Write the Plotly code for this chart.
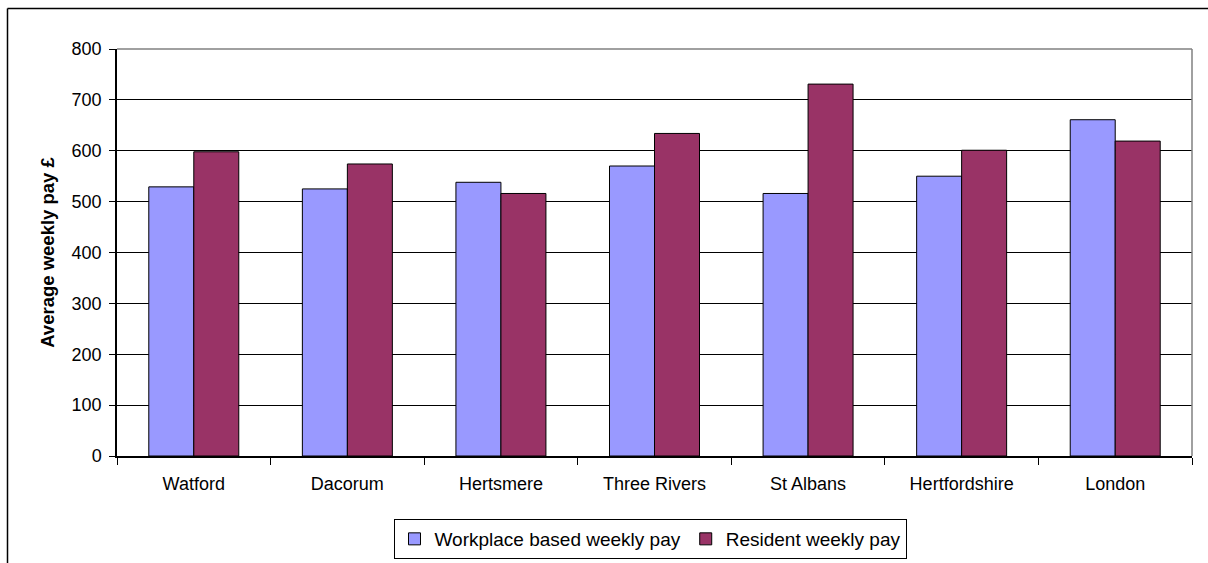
import plotly.graph_objects as go

categories = ["Watford", "Dacorum", "Hertsmere", "Three Rivers", "St Albans", "Hertfordshire", "London"]
workplace_pay = [529, 525, 538, 570, 516, 550, 661]
resident_pay = [598, 574, 516, 634, 731, 601, 619]
y_ticks = [0, 100, 200, 300, 400, 500, 600, 700, 800]

W, H = 1208, 563
L, R, T, B = 117, 16, 49, 107
pw, ph = W - L - R, H - T - B

font_family = "Arial, Liberation Sans, sans-serif"

fig = go.Figure()
fig.add_trace(go.Bar(
    name="Workplace based weekly pay", x=categories, y=workplace_pay,
    marker=dict(color="#9999FF", line=dict(color="#000000", width=1)),
))
fig.add_trace(go.Bar(
    name="Resident weekly pay", x=categories, y=resident_pay,
    marker=dict(color="#993366", line=dict(color="#000000", width=1)),
))

def px_x(p):
    return (p - L) / pw

def px_y(p):
    return (H - B - p) / ph

shapes = [
    # plot area top and right border (grey)
    dict(type="line", xref="paper", yref="paper", x0=0, x1=1, y0=1, y1=1,
         line=dict(color="#808080", width=1.5), layer="above"),
    dict(type="line", xref="paper", yref="paper", x0=1, x1=1, y0=0, y1=1,
         line=dict(color="#808080", width=1.5), layer="above"),
    # outer chart border (cut off at right/bottom)
    dict(type="line", xref="paper", yref="paper", x0=px_x(7.5), x1=px_x(1220), y0=px_y(8.5), y1=px_y(8.5),
         line=dict(color="#000000", width=1.5)),
    dict(type="line", xref="paper", yref="paper", x0=px_x(7.5), x1=px_x(7.5), y0=px_y(8.5), y1=px_y(580),
         line=dict(color="#000000", width=1.5)),
]

fig.update_layout(
    width=W, height=H,
    margin=dict(l=L, r=R, t=T, b=B, autoexpand=False),
    paper_bgcolor="white", plot_bgcolor="white",
    barmode="group", bargap=0.414, bargroupgap=0,
    font=dict(family=font_family, size=18, color="#000000"),
    showlegend=True,
    legend=dict(
        orientation="h", x=px_x(650), xanchor="center", y=px_y(519), yanchor="top",
        bordercolor="#000000", borderwidth=1, bgcolor="white",
        font=dict(family=font_family, size=19, color="#000000"),
        itemwidth=30, traceorder="normal",
    ),
    shapes=shapes,
)

fig.update_xaxes(
    type="category", showline=True, linecolor="#000000", linewidth=1.5,
    ticks="outside", tickson="boundaries", ticklen=7, tickcolor="#000000", tickwidth=1,
    showgrid=False, tickfont=dict(size=18), ticklabelstandoff=11,
)
fig.update_yaxes(
    range=[0, 800], tickvals=y_ticks, showline=True, linecolor="#000000", linewidth=1.5,
    ticks="outside", ticklen=6, tickcolor="#000000", tickwidth=1,
    showgrid=True, gridcolor="#000000", gridwidth=1, zeroline=False,
    tickfont=dict(size=18), ticklabelstandoff=4,
    title=dict(text="<b>Average weekly pay £</b>", font=dict(size=18.5), standoff=12),
)

fig.write_html(
    "out.html",
    config={"displayModeBar": False},
    post_script="document.body.style.margin='0';document.body.style.padding='0';",
)
